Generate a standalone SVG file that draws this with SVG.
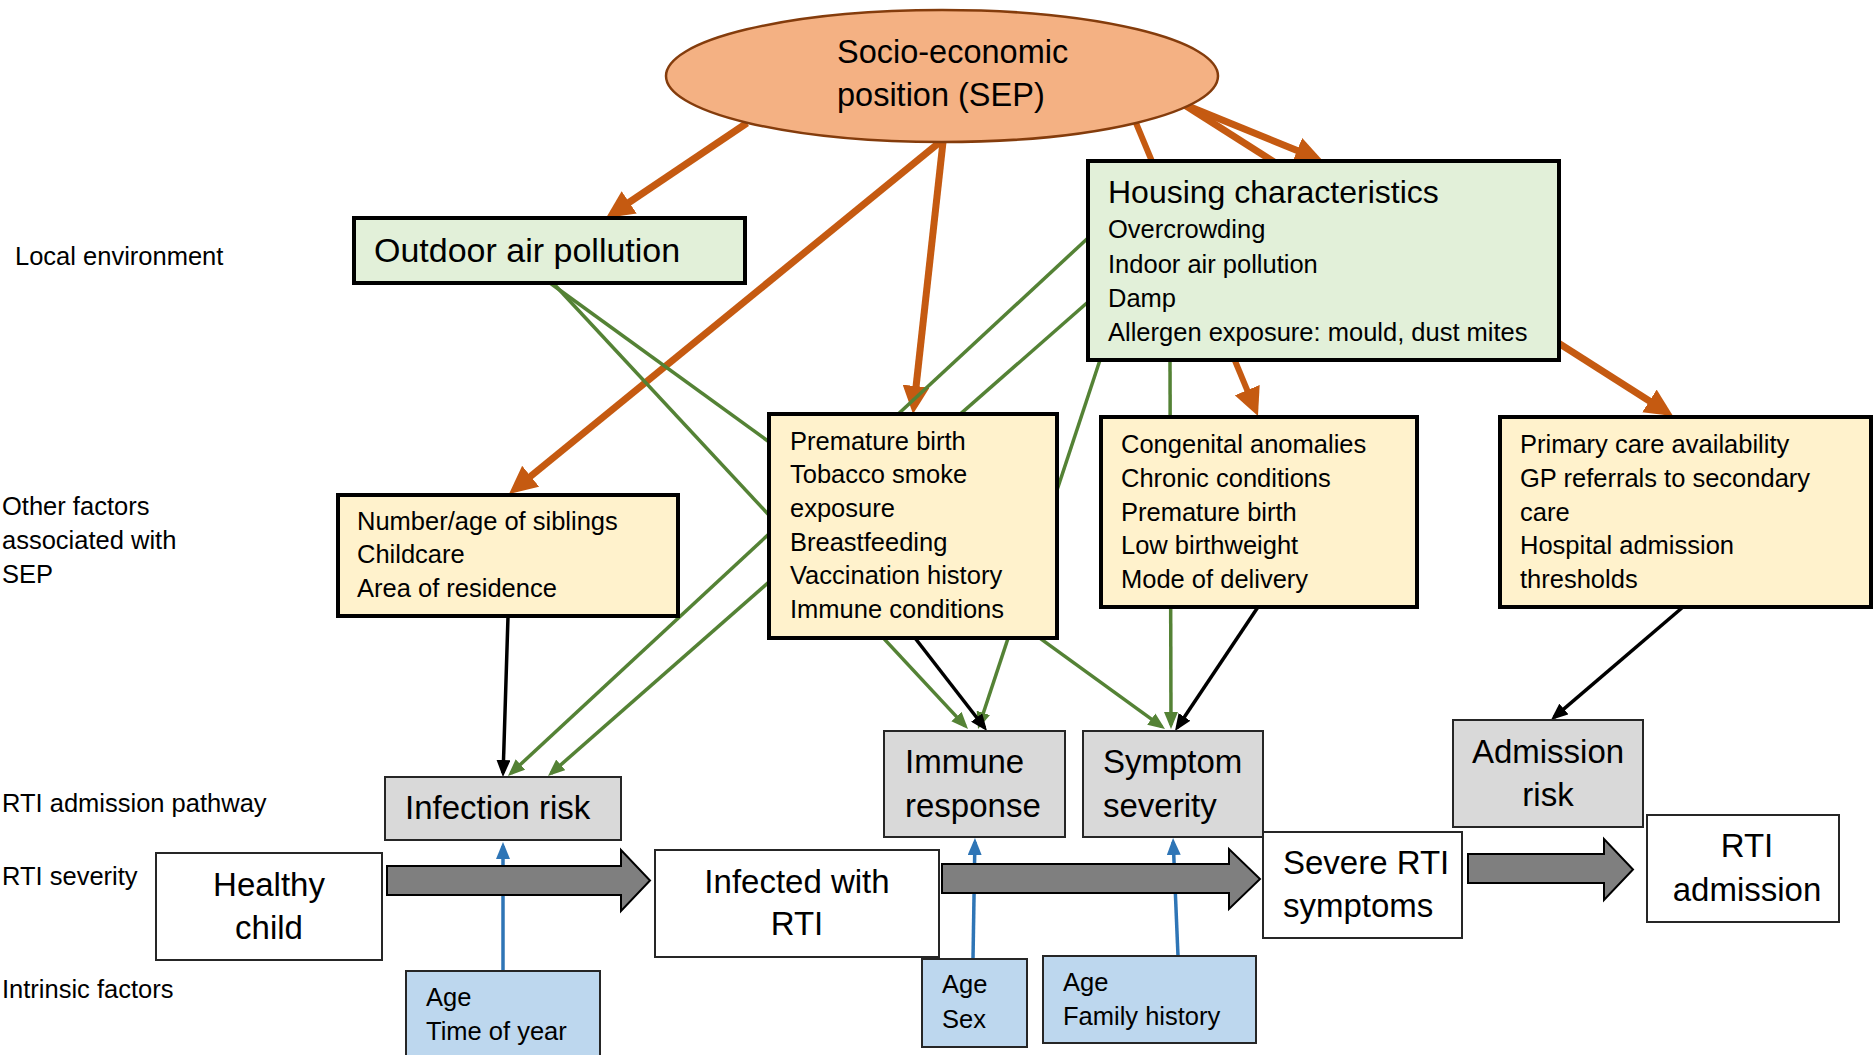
<svg xmlns="http://www.w3.org/2000/svg" width="1874" height="1055" viewBox="0 0 1874 1055">
<style>
text{font-family:"Liberation Sans",Arial,sans-serif;fill:#000}
.s{font-size:25.5px}
.b{font-size:33px}
.c{text-anchor:middle}
.top{stroke:#000;stroke-width:4}
.grn{fill:#E2F0D9}
.yel{fill:#FFF2CC}
.low{stroke:#262626;stroke-width:2}
.gry{fill:#D9D9D9}
.wht{fill:#FFFFFF}
.blu{fill:#BDD7EE}
.or{stroke:#C55A11;stroke-width:7;fill:none;marker-end:url(#ao)}
.gr{stroke:#548235;stroke-width:3.5;fill:none;marker-end:url(#ag)}
.bk{stroke:#000;stroke-width:3.5;fill:none;marker-end:url(#ab)}
.bl{stroke:#2E75B6;stroke-width:3.5;fill:none;marker-end:url(#al)}
.blk{fill:#7F7F7F;stroke:#000;stroke-width:2;stroke-linejoin:miter}
</style>
<defs>
<marker id="ao" markerUnits="userSpaceOnUse" markerWidth="28" markerHeight="27" refX="20" refY="13.5" orient="auto"><path d="M0,0 L28,13.5 L0,27 z" fill="#C55A11"/></marker>
<marker id="ag" markerUnits="userSpaceOnUse" markerWidth="17" markerHeight="14" refX="13" refY="7" orient="auto"><path d="M0,0 L17,7 L0,14 z" fill="#548235"/></marker>
<marker id="ab" markerUnits="userSpaceOnUse" markerWidth="17" markerHeight="14" refX="13" refY="7" orient="auto"><path d="M0,0 L17,7 L0,14 z" fill="#000"/></marker>
<marker id="al" markerUnits="userSpaceOnUse" markerWidth="17" markerHeight="14" refX="13" refY="7" orient="auto"><path d="M0,0 L17,7 L0,14 z" fill="#2E75B6"/></marker>
</defs>
<rect width="1874" height="1055" fill="#fff"/>
<g id="labels">
<text class="s" x="15" y="265">Local environment</text>
<text class="s" x="2" y="515">Other factors</text>
<text class="s" x="2" y="549">associated with</text>
<text class="s" x="2" y="583">SEP</text>
<text class="s" x="2" y="812">RTI admission pathway</text>
<text class="s" x="2" y="885">RTI severity</text>
<text class="s" x="2" y="998">Intrinsic factors</text>
</g>
<g id="connectors">
<line class="or" x1="747" y1="123" x2="612.6" y2="213.5"/>
<line class="or" x1="940" y1="142" x2="515.2" y2="488.9"/>
<line class="or" x1="943" y1="142" x2="913.9" y2="406"/>
<line class="or" style="stroke-width:6" x1="1136" y1="123" x2="1254.9" y2="408.6"/>
<line class="or" x1="1183" y1="104" x2="1315.6" y2="158"/>
<line class="or" x1="1183" y1="104" x2="1666.3" y2="411.7"/>
<line class="gr" x1="550" y1="283" x2="1161.8" y2="726.7"/>
<line class="gr" x1="553" y1="283" x2="965.3" y2="726.1"/>
<line class="gr" x1="1088" y1="238" x2="510.9" y2="773.3"/>
<line class="gr" x1="1088" y1="302" x2="551" y2="773.4"/>
<line class="gr" x1="1100" y1="360" x2="979.3" y2="725.2"/>
<line class="gr" x1="1170" y1="360" x2="1171" y2="725"/>
<line class="bk" x1="508" y1="617" x2="503.1" y2="773"/>
<line class="bk" x1="915" y1="638" x2="984.6" y2="727.8"/>
<line class="bk" x1="1258" y1="607" x2="1177.2" y2="727.7"/>
<line class="bk" x1="1683" y1="607" x2="1554" y2="717.4"/>
<line class="bl" x1="503" y1="971" x2="503" y2="846"/>
<line class="bl" x1="973" y1="959" x2="974.9" y2="842"/>
<line class="bl" x1="1178" y1="956" x2="1173.2" y2="842"/>
<polygon class="blk" points="387,866 621,866 621,850 650,880.5 621,911 621,895 387,895"/>
<polygon class="blk" points="942,864 1229,864 1229,849 1260,879 1229,909 1229,893 942,893"/>
<polygon class="blk" points="1468,854 1604,854 1604,839 1633,869.5 1604,900 1604,883 1468,883"/>
</g>
<g id="sep">
<ellipse cx="942" cy="76" rx="276" ry="66" fill="#F4B183" stroke="#843C0C" stroke-width="2.5"/>
<text x="837" y="63" style="font-size:32.5px">Socio-economic</text>
<text x="837" y="106" style="font-size:32.5px">position (SEP)</text>
</g>
<g id="outdoor">
<rect class="top grn" x="354" y="218" width="391" height="65"/>
<text x="374" y="262" style="font-size:34px">Outdoor air pollution</text>
</g>
<g id="housing">
<rect class="top grn" x="1088" y="161" width="471" height="199"/>
<text x="1108" y="203" style="font-size:32px">Housing characteristics</text>
<text class="s" x="1108" y="238">Overcrowding</text>
<text class="s" x="1108" y="273">Indoor air pollution</text>
<text class="s" x="1108" y="307">Damp</text>
<text class="s" x="1108" y="341">Allergen exposure: mould, dust mites</text>
</g>
<g id="siblings">
<rect class="top yel" x="338" y="495" width="340" height="121"/>
<text class="s" x="357" y="530">Number/age of siblings</text>
<text class="s" x="357" y="563">Childcare</text>
<text class="s" x="357" y="597">Area of residence</text>
</g>
<g id="premature">
<rect class="top yel" x="769" y="414" width="288" height="224"/>
<text class="s" x="790" y="450">Premature birth</text>
<text class="s" x="790" y="483">Tobacco smoke</text>
<text class="s" x="790" y="517">exposure</text>
<text class="s" x="790" y="551">Breastfeeding</text>
<text class="s" x="790" y="584">Vaccination history</text>
<text class="s" x="790" y="618">Immune conditions</text>
</g>
<g id="congenital">
<rect class="top yel" x="1101" y="417" width="316" height="190"/>
<text class="s" x="1121" y="453">Congenital anomalies</text>
<text class="s" x="1121" y="487">Chronic conditions</text>
<text class="s" x="1121" y="521">Premature birth</text>
<text class="s" x="1121" y="554">Low birthweight</text>
<text class="s" x="1121" y="588">Mode of delivery</text>
</g>
<g id="primary">
<rect class="top yel" x="1500" y="417" width="371" height="190"/>
<text class="s" x="1520" y="453">Primary care availability</text>
<text class="s" x="1520" y="487">GP referrals to secondary</text>
<text class="s" x="1520" y="521">care</text>
<text class="s" x="1520" y="554">Hospital admission</text>
<text class="s" x="1520" y="588">thresholds</text>
</g>
<g id="infection-risk">
<rect class="low gry" x="385" y="777" width="236" height="63"/>
<text class="b" x="405" y="819">Infection risk</text>
</g>
<g id="immune-response">
<rect class="low gry" x="884" y="731" width="181" height="106"/>
<text class="b" x="905" y="773">Immune</text>
<text class="b" x="905" y="817">response</text>
</g>
<g id="symptom-severity">
<rect class="low gry" x="1083" y="731" width="180" height="106"/>
<text class="b" x="1103" y="773">Symptom</text>
<text class="b" x="1103" y="817">severity</text>
</g>
<g id="admission-risk">
<rect class="low gry" x="1453" y="720" width="190" height="107"/>
<text class="b c" x="1548" y="763">Admission</text>
<text class="b c" x="1548" y="806">risk</text>
</g>
<g id="healthy-child">
<rect class="low wht" x="156" y="853" width="226" height="107"/>
<text class="b c" x="269" y="896">Healthy</text>
<text class="b c" x="269" y="939">child</text>
</g>
<g id="infected">
<rect class="low wht" x="655" y="850" width="284" height="107"/>
<text class="b c" x="797" y="893">Infected with</text>
<text class="b c" x="797" y="935">RTI</text>
</g>
<g id="severe">
<rect class="low wht" x="1263" y="832" width="199" height="106"/>
<text class="b" x="1283" y="874">Severe RTI</text>
<text class="b" x="1283" y="917">symptoms</text>
</g>
<g id="rti-admission">
<rect class="low wht" x="1647" y="815" width="192" height="107"/>
<text class="b c" x="1747" y="857">RTI</text>
<text class="b c" x="1747" y="901">admission</text>
</g>
<g id="intrinsic-infection">
<rect class="low blu" x="406" y="971" width="194" height="100"/>
<text class="s" x="426" y="1006">Age</text>
<text class="s" x="426" y="1040">Time of year</text>
</g>
<g id="intrinsic-immune">
<rect class="low blu" x="922" y="959" width="105" height="88"/>
<text class="s" x="942" y="993">Age</text>
<text class="s" x="942" y="1028">Sex</text>
</g>
<g id="intrinsic-symptom">
<rect class="low blu" x="1043" y="956" width="213" height="87"/>
<text class="s" x="1063" y="991">Age</text>
<text class="s" x="1063" y="1025">Family history</text>
</g>
</svg>
